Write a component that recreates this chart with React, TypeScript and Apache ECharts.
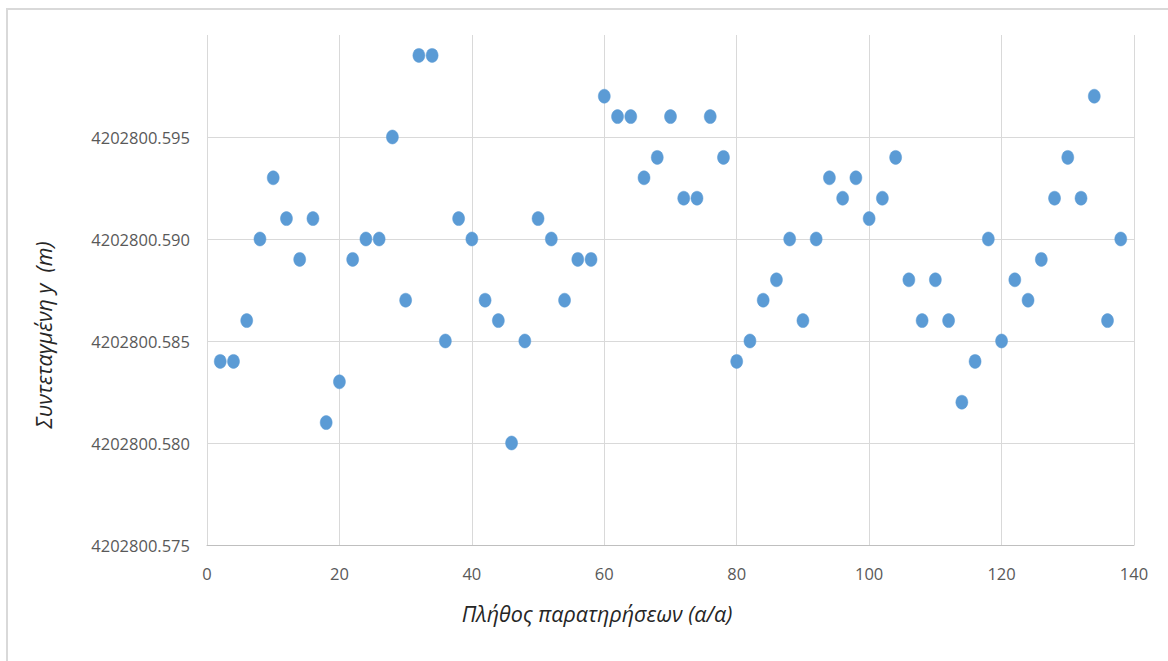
import React, { useEffect, useRef } from "react";
import * as echarts from "echarts";

const xValues: number[] = [
  2, 4, 6, 8, 10, 12, 14, 16, 18, 20, 22, 24, 26, 28, 30, 32, 34, 36, 38, 40,
  42, 44, 46, 48, 50, 52, 54, 56, 58, 60, 62, 64, 66, 68, 70, 72, 74, 76, 78, 80,
  82, 84, 86, 88, 90, 92, 94, 96, 98, 100, 102, 104, 106, 108, 110, 112, 114, 116, 118, 120,
  122, 124, 126, 128, 130, 132, 134, 136, 138,
];

const yValues: number[] = [
  4202800.584, 4202800.584, 4202800.586, 4202800.59, 4202800.593, 4202800.591, 4202800.589, 4202800.591, 4202800.581, 4202800.583,
  4202800.589, 4202800.59, 4202800.59, 4202800.595, 4202800.587, 4202800.599, 4202800.599, 4202800.585, 4202800.591, 4202800.59,
  4202800.587, 4202800.586, 4202800.58, 4202800.585, 4202800.591, 4202800.59, 4202800.587, 4202800.589, 4202800.589, 4202800.597,
  4202800.596, 4202800.596, 4202800.593, 4202800.594, 4202800.596, 4202800.592, 4202800.592, 4202800.596, 4202800.594, 4202800.584,
  4202800.585, 4202800.587, 4202800.588, 4202800.59, 4202800.586, 4202800.59, 4202800.593, 4202800.592, 4202800.593, 4202800.591,
  4202800.592, 4202800.594, 4202800.588, 4202800.586, 4202800.588, 4202800.586, 4202800.582, 4202800.584, 4202800.59, 4202800.585,
  4202800.588, 4202800.587, 4202800.589, 4202800.592, 4202800.594, 4202800.592, 4202800.597, 4202800.586, 4202800.59,
];

const xTitle = "Πλήθος παρατηρήσεων (α/α)";
const yTitle = "Συντεταγμένη y  (m)";

const X_MIN = 0;
const X_MAX = 140;
const X_STEP = 20;
const Y_MIN = 4202800.575;
const Y_MAX = 4202800.6;
const Y_STEP = 0.005;

export default function App() {
  const ref = useRef<HTMLDivElement>(null);

  useEffect(() => {
    if (!ref.current) return;
    const chart = echarts.init(ref.current, null, { renderer: "svg" });
    const font = "'Open Sans', 'Noto Sans', sans-serif";
    const data = xValues.map((x, i) => [x, yValues[i]]);
    chart.setOption({
      animation: false,
      backgroundColor: "#ffffff",
      grid: { left: 207, top: 35, right: 34, bottom: 116, containLabel: false },
      xAxis: {
        type: "value",
        min: X_MIN,
        max: X_MAX,
        interval: X_STEP,
        axisLine: { show: true, lineStyle: { color: "#bfbfbf", width: 1 } },
        axisTick: { show: false },
        axisLabel: { color: "#595959", fontSize: 16.5, fontFamily: font, margin: 20 },
        splitLine: { show: true, lineStyle: { color: "#d9d9d9", width: 1 } },
      },
      yAxis: {
        type: "value",
        min: Y_MIN,
        max: Y_MAX,
        interval: Y_STEP,
        axisLine: { show: false },
        axisTick: { show: false },
        axisLabel: {
          color: "#595959",
          fontSize: 16.5,
          fontFamily: font,
          margin: 17,
          showMaxLabel: false,
          formatter: (v: number) => v.toFixed(3),
        },
        splitLine: { show: true, showMaxLine: false, lineStyle: { color: "#d9d9d9", width: 1 } },
      },
      graphic: [
        {
          type: "rect",
          shape: { x: 7, y: 9, width: 1250, height: 750 },
          style: { fill: "none", stroke: "#d9d9d9", lineWidth: 2 },
          silent: true,
        },
        {
          type: "text",
          x: 43,
          y: 335,
          rotation: Math.PI / 2,
          style: {
            text: yTitle,
            fill: "#262626",
            font: `italic 21.5px ${font}`,
            align: "center",
            verticalAlign: "middle",
          },
        },
        {
          type: "text",
          x: 597,
          y: 613,
          style: {
            text: xTitle,
            fill: "#262626",
            font: `italic 21.5px ${font}`,
            align: "center",
            verticalAlign: "middle",
          },
        },
      ],
      series: [
        {
          type: "scatter",
          data,
          symbol: "circle",
          symbolSize: [12, 14],
          itemStyle: { color: "#5b9bd5", opacity: 1, borderColor: "#5b9bd5", borderWidth: 0.5 },
        },
      ],
    });
    return () => chart.dispose();
  }, []);

  return (
    <div
      ref={ref}
      style={{ position: "fixed", left: 0, top: 0, width: 1168, height: 661, background: "#fff" }}
    />
  );
}
